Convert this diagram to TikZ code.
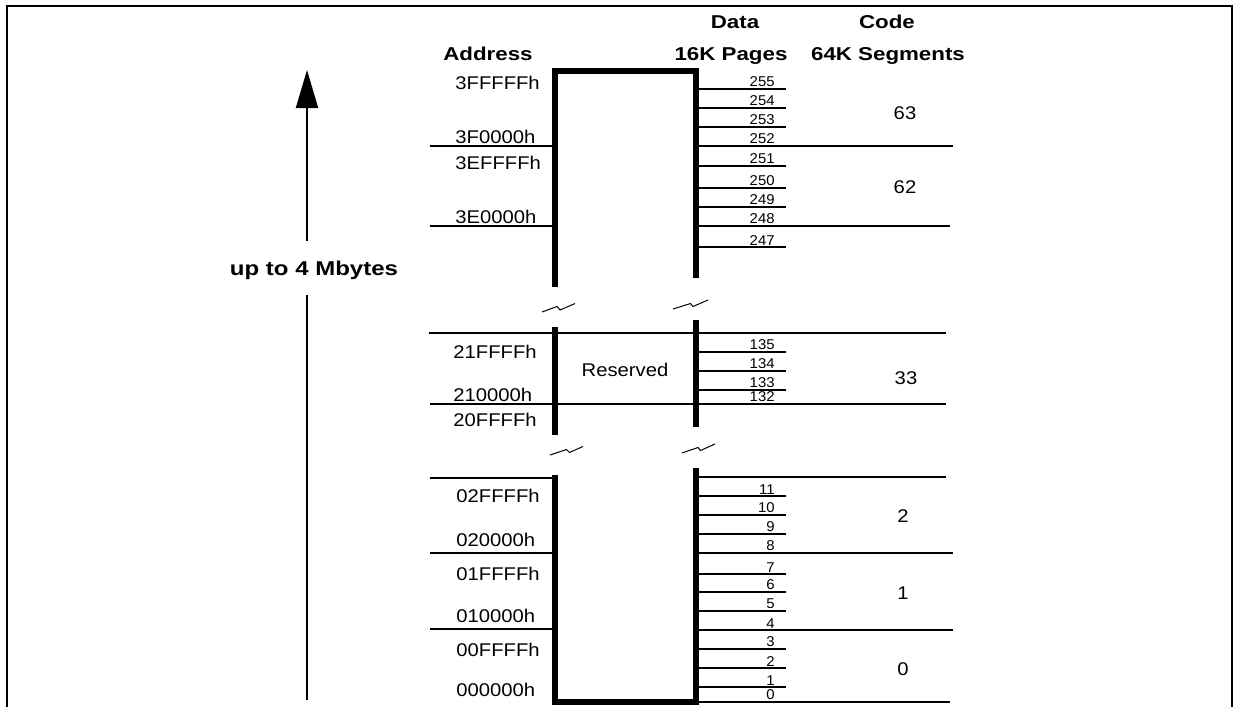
\documentclass[tikz,border=0pt]{standalone}
\usepackage{fontspec}
\setmainfont{Liberation Sans}[FakeStretch=1.1]
\newfontfamily\hfont{Liberation Sans}[FakeStretch=1.2]
\newfontfamily\pfont{Liberation Sans}[FakeStretch=1.05]
\usetikzlibrary{arrows.meta}
\begin{document}
\begin{tikzpicture}[x=0.5pt,y=-0.5pt,
  rule/.style={line width=0.75pt},
  wall/.style={line width=2.6pt},
  frame/.style={line width=1pt},
  brk/.style={line width=0.5pt},
  addr/.style={anchor=west,inner sep=0pt,font=\fontsize{9.2}{11}\selectfont},
  pg/.style={anchor=south east,inner sep=0pt,font=\pfont\fontsize{7.1}{8}\selectfont},
  seg/.style={inner sep=0pt,font=\fontsize{9.2}{11}\selectfont},
  head/.style={anchor=base,inner sep=0pt,font=\hfont\bfseries\fontsize{9.3}{11}\selectfont}]
\useasboundingbox (0,0) rectangle (1239,707);
% outer frame
\draw[frame] (7,707) -- (7,6) -- (1232,6) -- (1232,707);
% headers
\node[head] (hAddr) at (488,60) {Address};
\node[head] (hData) at (735,28) {Data};
\node[head] (hPages) at (731,60) {16K Pages};
\node[head] (hCode) at (887,28) {Code};
\node[head] (hSeg) at (888,60) {64K Segments};
% arrow and size label
\node[head,anchor=center,font=\hfont\bfseries\fontsize{10}{12}\selectfont] (mb) at (314,270) {up to 4 Mbytes};
\coordinate (abot) at (307,700);
\coordinate (atop) at (307,70);
\coordinate (agapL) at (307,295);
\coordinate (agapU) at (307,241);
\draw[line width=1pt] (abot) -- (agapL);
\draw[line width=1pt,-{Triangle[length=19pt,width=11pt]}] (agapU) -- (atop);
% memory walls
\draw[wall] (555,287) -- (555,71) -- (696,71) -- (696,278);
\draw[wall] (555,327) -- (555,435);
\draw[wall] (696,320) -- (696,427);
\draw[wall] (555,475) -- (555,702) -- (696,702) -- (696,468);
% break marks
\draw[brk] (542,312) -- (557,306.5) -- (560,310) -- (575,303.5);
\draw[brk] (673,309) -- (690.5,303.5) -- (693,306.5) -- (708,300);
\draw[brk] (550,455) -- (566.5,449.5) -- (569.5,452.5) -- (583,446.5);
\draw[brk] (682,453) -- (698,447.5) -- (700.5,450.5) -- (715,444);
% address boundary lines
\foreach \y in {146,226,478,553,629} \draw[rule] (430,\y) -- (555,\y);
\draw[rule] (429,333) -- (946,333);
\draw[rule] (430,404) -- (946,404);
% segment boundary lines
\draw[rule] (696,146) -- (953,146);
\draw[rule] (696,226) -- (950,226);
\draw[rule] (696,477) -- (946,477);
\draw[rule] (696,553) -- (953,553);
\draw[rule] (696,630) -- (953,630);
\draw[rule] (696,702) -- (950,702);
% page lines
\foreach \y in {89,108,127,166,188,207,247,352,371,390,496,515,534,574,592,611,649,668,687}
  \draw[rule] (696,\y) -- (786,\y);
% page labels
\foreach \n/\y in {255/89,254/108,253/127,252/146,251/166,250/188,249/207,248/226,247/247,
  135/352,134/371,133/390,132/404,11/496,10/515,9/534,8/553,7/574,6/592,5/611,4/630,3/649,2/668,1/687,0/702}
  \node[pg] (p\n) at (775,{\y-1.5}) {\n};
% address labels
\node[addr] (a1) at (455,83) {3FFFFFh};
\node[addr] (a2) at (455,137) {3F0000h};
\node[addr] (a3) at (455,163) {3EFFFFh};
\node[addr] (a4) at (455,217) {3E0000h};
\node[addr] (a5) at (453,352) {21FFFFh};
\node[addr] (a6) at (453,395) {210000h};
\node[addr] (a7) at (453,420) {20FFFFh};
\node[addr] (a8) at (456,496) {02FFFFh};
\node[addr] (a9) at (456,540) {020000h};
\node[addr] (a10) at (456,574) {01FFFFh};
\node[addr] (a11) at (456,616) {010000h};
\node[addr] (a12) at (456,650) {00FFFFh};
\node[addr] (a13) at (456,690) {000000h};
% reserved
\node[seg] (res) at (625,370) {Reserved};
% segment numbers
\node[seg] (s63) at (905,113) {63};
\node[seg] (s62) at (905,187) {62};
\node[seg] (s33) at (906,378) {33};
\node[seg] (s2) at (903,516) {2};
\node[seg] (s1) at (903,593) {1};
\node[seg] (s0) at (903,669) {0};
\end{tikzpicture}
\end{document}
